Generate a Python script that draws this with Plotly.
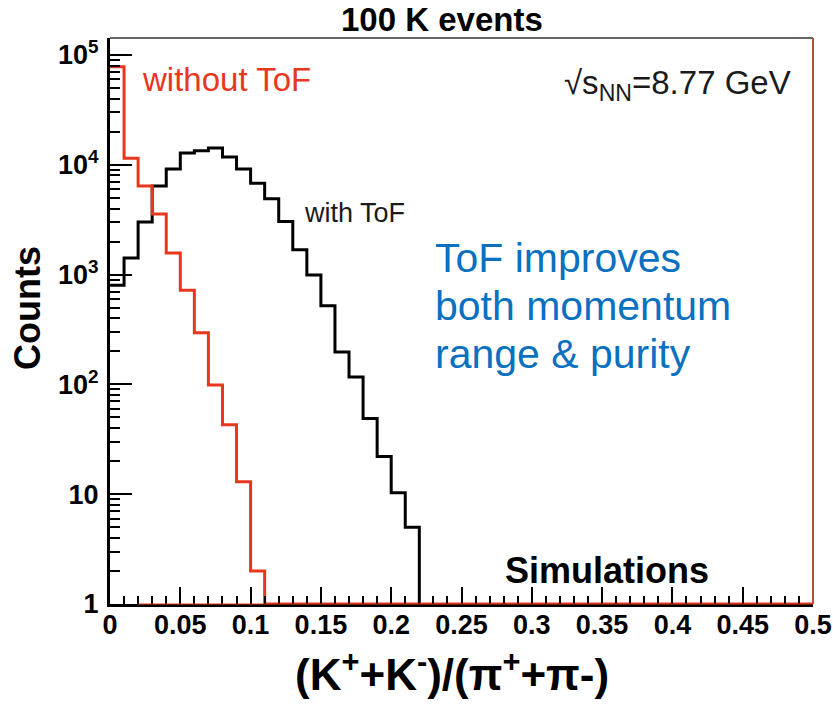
import plotly.graph_objects as go

# ---- data ----
bin_width = 0.01
# without ToF (red), bins starting at 0.00
red_counts = [78000, 11500, 6400, 3560, 1570, 720, 295, 99, 43, 13, 2]
# with ToF (black), bins starting at 0.00
black_counts = [800, 1420, 3010, 6400, 9150, 12800, 13400, 14200, 11800, 9150,
                6800, 4900, 3050, 1680, 990, 520, 197, 117, 49, 22, 10.3, 5.0]
x_ticks = [0, 0.05, 0.1, 0.15, 0.2, 0.25, 0.3, 0.35, 0.4, 0.45, 0.5]
x_ticktext = ["0", "0.05", "0.1", "0.15", "0.2", "0.25", "0.3", "0.35", "0.4", "0.45", "0.5"]
y_ticks = [1, 10, 100, 1000, 10000, 100000]
y_ticktext = ["1", "10", "10<sup>2</sup>", "10<sup>3</sup>", "10<sup>4</sup>", "10<sup>5</sup>"]
blue_lines = ["ToF improves", "both momentum", "range & purity"]
x_max = 0.5
y_min = 1

RED = "#e8361f"
BLUE = "#0a70c0"


def step_path(counts, extend_to=None):
    xs = [round(i * bin_width, 4) for i in range(len(counts))]
    ys = [max(c, y_min) for c in counts]
    end = round(len(counts) * bin_width, 4)
    xs.append(end)
    ys.append(y_min)
    if extend_to is not None:
        xs.append(extend_to)
        ys.append(y_min)
    return xs, ys


bx, by = step_path(black_counts)
rx, ry = step_path(red_counts, extend_to=x_max)

fig = go.Figure()
fig.add_trace(go.Scatter(x=bx, y=by, mode="lines", line=dict(shape="hv", color="black", width=3),
                         showlegend=False, hoverinfo="skip"))
fig.add_trace(go.Scatter(x=rx, y=ry, mode="lines", line=dict(shape="hv", color=RED, width=3),
                         showlegend=False, hoverinfo="skip"))

font_reg = "Liberation Sans, Arial, sans-serif"
tickfont = dict(family=font_reg, size=27, color="black", weight="bold")

fig.update_layout(
    width=833, height=704,
    margin=dict(l=110, r=20, t=38, b=100, autoexpand=False),
    paper_bgcolor="white", plot_bgcolor="white",
    showlegend=False,
    xaxis=dict(
        range=[0, x_max], tickmode="array", tickvals=x_ticks, ticktext=x_ticktext,
        ticks="inside", ticklen=17, tickwidth=1.5, tickcolor="black",
        minor=dict(ticks="inside", ticklen=8, tickwidth=1.5, tickcolor="black", dtick=0.01, showgrid=False),
        showline=True, linewidth=3, linecolor="black", showgrid=False, zeroline=False,
        tickfont=tickfont, layer="above traces", ticklabelstandoff=-5, automargin=False,
    ),
    yaxis=dict(
        type="log", range=[0, 5.155], tickmode="array", tickvals=y_ticks, ticktext=y_ticktext,
        ticks="inside", ticklen=22, tickwidth=1.5, tickcolor="black",
        minor=dict(ticks="inside", ticklen=10, tickwidth=1.5, tickcolor="black", dtick="D1", showgrid=False),
        showline=True, linewidth=3, linecolor="black", showgrid=False, zeroline=False,
        tickfont=tickfont, layer="above traces", ticklabelstandoff=3, automargin=False,
    ),
)

# frame: top (dark) and right (reddish) borders, thin red baseline
fig.add_shape(type="line", xref="paper", yref="paper", x0=0, x1=1, y0=1, y1=1,
              line=dict(color="#333333", width=1.5))
fig.add_shape(type="line", xref="paper", yref="paper", x0=1, x1=1, y0=0, y1=1,
              line=dict(color="#b5503a", width=2))
fig.add_shape(type="line", xref="x", yref="paper", x0=0.02, x1=x_max, y0=0, y1=0,
              line=dict(color=RED, width=1))

anns = [
    dict(text="100 K events", x=0.472, y=1.032, xanchor="center", yanchor="middle",
         font=dict(family=font_reg, size=33, color="black", weight="bold")),
    dict(text="without ToF", x=0.043, y=0.927, xanchor="left", yanchor="middle",
         font=dict(family=font_reg, size=33, color=RED)),
    dict(text="with ToF", x=0.273, y=0.69, xanchor="left", yanchor="middle",
         font=dict(family=font_reg, size=27, color="#1a1a1a")),
    dict(text="√s<sub>NN</sub>=8.77 GeV", x=0.9716, y=0.917, xanchor="right", yanchor="middle",
         font=dict(family=font_reg, size=33, color="#1a1a1a")),
    dict(text="Simulations", x=0.559, y=0.06, xanchor="left", yanchor="middle",
         font=dict(family=font_reg, size=36, color="black", weight="bold")),
    dict(text="(K<sup>+</sup>+K<sup>-</sup>)/(π<sup>+</sup>+π-)", x=0.4865, y=-0.12,
         xanchor="center", yanchor="middle",
         font=dict(family=font_reg, size=44, color="black", weight="bold")),
    dict(text="Counts", x=-0.1166, y=0.523, xanchor="center", yanchor="middle", textangle=-90,
         font=dict(family=font_reg, size=36, color="black", weight="bold")),
]
# blue comment, one line per annotation (baselines ~48 px apart)
blue_center_px = [258, 306, 354]
for txt, py in zip(blue_lines, blue_center_px):
    anns.append(dict(text=txt, x=0.4595, y=(604 - py) / 566, xanchor="left", yanchor="middle",
                     align="left", font=dict(family=font_reg, size=41, color=BLUE)))

for a in anns:
    fig.add_annotation(xref="paper", yref="paper", showarrow=False, **a)

fig.write_html("out.html")
